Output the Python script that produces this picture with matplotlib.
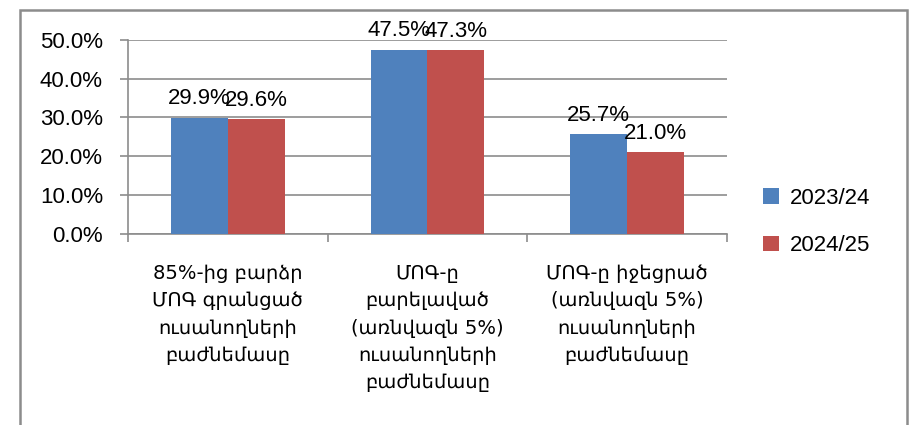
import numpy as np
import matplotlib.pyplot as plt
from matplotlib.patches import Rectangle

categories = [
    "85%-ից բարձր\nՄՈԳ գրանցած\nուսանողների\nբաժնեմասը",
    "ՄՈԳ-ը\nբարելաված\n(առնվազն 5%)\nուսանողների\nբաժնեմասը",
    "ՄՈԳ-ը իջեցրած\n(առնվազն 5%)\nուսանողների\nբաժնեմասը",
]
years = ["2023/24", "2024/25"]
share_2023 = [29.9, 47.5, 25.7]
share_2024 = [29.6, 47.3, 21.0]
yticks = [0, 10, 20, 30, 40, 50]

colors = ["#4F81BD", "#C0504D"]
grey = "#8C8C8C"
fonts = ["Liberation Sans", "DejaVu Sans"]
plt.rcParams["font.family"] = fonts

fig = plt.figure(figsize=(9.12, 4.25), dpi=100)
ax = fig.add_axes([128 / 912, 1 - 233.5 / 425, (727 - 128) / 912, (233.5 - 40) / 425])

x = np.arange(len(categories))
w = 0.285
for i, (vals, lab) in enumerate(zip([share_2023, share_2024], years)):
    bars = ax.bar(x + (i - 0.5) * w, vals, w, color=colors[i], label=lab, zorder=3)
    for b, v in zip(bars, vals):
        ax.annotate(f"{v:.1f}%", (b.get_x() + b.get_width() / 2, v),
                    xytext=(0, 6), textcoords="offset points",
                    ha="center", va="bottom", fontsize=16, zorder=4)

ax.set_xlim(-0.5, 2.5)
ax.set_ylim(0, 50)
ax.set_yticks(yticks)
ax.set_yticklabels([f"{t:.1f}%" for t in yticks], fontsize=16)
ax.yaxis.grid(True, color=grey, linewidth=1.2, zorder=0)

ax.set_xticks([-0.5, 0.5, 1.5, 2.5])
ax.set_xticklabels([])
ax.set_xticks(x, minor=True)
ax.set_xticklabels(categories, minor=True, fontsize=14, family="DejaVu Sans",
                   linespacing=1.55, va="top")
ax.tick_params(axis="x", which="minor", length=0, pad=22)
ax.tick_params(axis="x", which="major", length=6, color=grey, width=1.2)
ax.tick_params(axis="y", length=6, color=grey, width=1.2, pad=12)

for s in ["top", "right"]:
    ax.spines[s].set_visible(False)
for s in ["left", "bottom"]:
    ax.spines[s].set_color(grey)
    ax.spines[s].set_linewidth(1.2)

ax.legend(loc="center left", bbox_to_anchor=(1.027, 0.06), frameon=False,
          fontsize=16, handlelength=0.7, handleheight=0.7, labelspacing=1.2,
          handletextpad=0.5)

# outer chart frame, open at the bottom
fig.add_artist(Rectangle((20 / 912, -0.1), 887 / 912, 1.1 - 10 / 425,
                         transform=fig.transFigure, fill=False,
                         edgecolor=grey, linewidth=1.8, clip_on=False))

fig.savefig("out.png", dpi=100)
